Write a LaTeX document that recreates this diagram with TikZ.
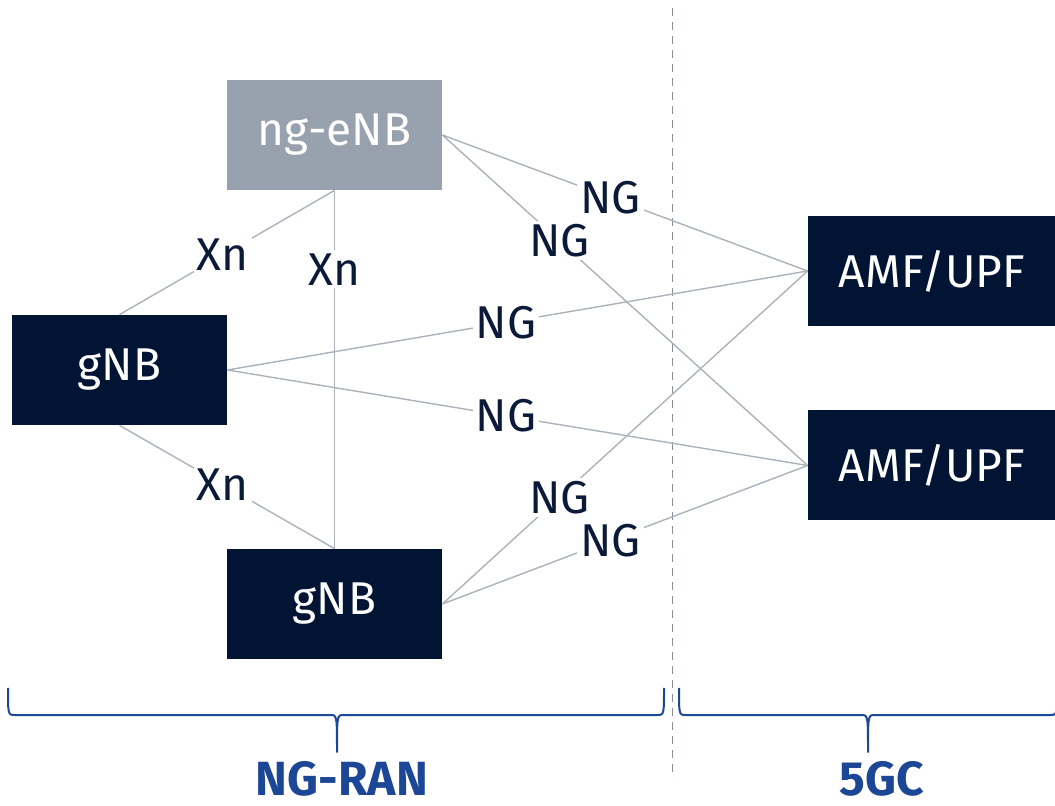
\documentclass[tikz,border=0pt]{standalone}
\usepackage{fontspec}
\setmainfont{Fira Sans}
\newcommand{\lb}{107.5pt}
\newcommand{\hb}{55pt}
\definecolor{marine}{RGB}{2,20,52}
\definecolor{grisenb}{RGB}{152,162,174}
\definecolor{gristrait}{RGB}{170,178,188}
\definecolor{bleuacc}{RGB}{28,70,150}
\definecolor{encre}{RGB}{12,26,58}
\tikzstyle{boite}=[fill=marine, text=white, minimum width=\lb, minimum height=\hb, inner sep=0, font=\fontsize{23}{23}\selectfont]
\tikzstyle{boitegris}=[boite, fill=grisenb]
\tikzstyle{boitelarge}=[boite, minimum width=124pt]
\tikzstyle{lien}=[draw=gristrait, line width=0.7pt]
\tikzstyle{etiq}=[fill=white, text=encre, inner sep=1.5pt, font=\fontsize{23}{23}\selectfont]
\tikzstyle{trait}=[draw=bleuacc, line width=1pt, line join=round]
\tikzstyle{titre}=[text=bleuacc, font=\fontsize{24}{24}\selectfont\bfseries]
% accolade : bord gauche, pointe, bord droit
\newcommand{\accolade}[3]{
\draw[trait] (#1,688) .. controls (#1,715) .. (#1+7,715) -- (#2-7,715)
  .. controls (#2,715) .. (#2,752) .. controls (#2,715) .. (#2+7,715)
  -- (#3-7,715) .. controls (#3,715) .. (#3,688);
}
\begin{document}
\begin{tikzpicture}[x=0.5pt, y=-0.5pt]
\useasboundingbox (0,0) rectangle (1055,806);

% noeuds
\node[boitegris] (enb) at (334.5,135) {ng-eNB};
\node[boite] (gnbA) at (119.5,370) {gNB};
\node[boite] (gnbB) at (334.5,604) {gNB};
\node[boitelarge] (amfA) at (932,271) {AMF/UPF};
\node[boitelarge] (amfB) at (932,465.5) {AMF/UPF};

% frontiere
\draw[gristrait!80!black, dashed, dash pattern=on 4pt off 3pt, line width=0.5pt] (672,8) -- (672,778);

% Xn
\draw[lien] (enb.south) -- node[etiq, pos=0.52] {Xn} (gnbA.north);
\draw[lien] (enb.south) -- node[etiq, pos=0.22] {Xn} (gnbB.north);
\draw[lien] (gnbA.south) -- node[etiq, pos=0.48] {Xn} (gnbB.north);

% NG
\draw[lien] (enb.east) -- node[etiq, pos=0.46] {NG} (amfA.west);
\draw[lien] (enb.east) -- node[etiq, pos=0.32] {NG} (amfB.west);
\draw[lien] (gnbA.east) -- node[etiq, pos=0.48] {NG} (amfA.west);
\draw[lien] (gnbA.east) -- node[etiq, pos=0.48] {NG} (amfB.west);
\draw[lien] (gnbB.east) -- node[etiq, pos=0.32] {NG} (amfA.west);
\draw[lien] (gnbB.east) -- node[etiq, pos=0.46] {NG} (amfB.west);

% accolades
\accolade{8}{337}{664}
\accolade{679}{868}{1057}
\node[titre] (ran) at (342,779) {NG-RAN};
\node[titre] (coeur) at (882,779) {5GC};
\end{tikzpicture}
\end{document}
